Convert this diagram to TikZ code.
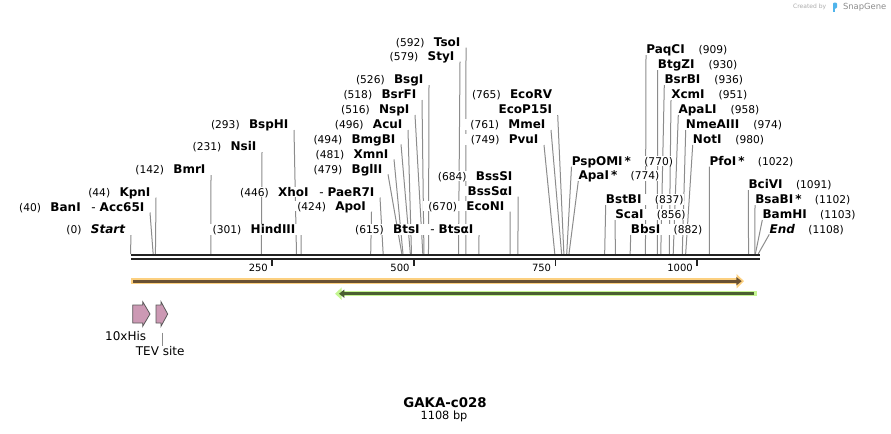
\documentclass[tikz,border=0pt]{standalone}
\usepackage{fontspec}
\setmainfont{DejaVu Sans}
\usetikzlibrary{arrows.meta}
\definecolor{cutgray}{RGB}{140,140,140}
\definecolor{barblack}{RGB}{34,34,34}
\definecolor{orghalo}{RGB}{252,208,128}
\definecolor{orgline}{RGB}{105,80,50}
\definecolor{grnhalo}{RGB}{196,246,145}
\definecolor{grnline}{RGB}{75,95,50}
\definecolor{featpink}{RGB}{204,153,180}
\definecolor{snapblue}{RGB}{80,180,235}
\pgfdeclarelayer{bg}
\pgfsetlayers{bg,main}
\newcommand{\cutno}[1]{{\fontsize{8}{9}\selectfont(#1)}}
\newcommand{\sitex}[1]{130.5+0.5665*#1}
% enzyme label left of its cut line
\newcommand{\enzL}[5]{%
  \node[enz left] (#1) at (#3,#4) {#5};
  \coordinate (#1-cut) at ({\sitex{#2}},254);
  \begin{pgfonlayer}{bg}\draw[cut line] (#1.south east) -- (#1-cut);\end{pgfonlayer}}
% enzyme label right of its cut line
\newcommand{\enzR}[5]{%
  \node[enz right] (#1) at (#3,#4) {#5};
  \coordinate (#1-cut) at ({\sitex{#2}},254);
  \begin{pgfonlayer}{bg}\draw[cut line] (#1.south west) -- (#1-cut);\end{pgfonlayer}}

\begin{document}
\begin{tikzpicture}[x=0.75pt,y=-0.75pt,
    enz left/.style={anchor=south east,fill=white,inner xsep=4pt,inner ysep=0pt,
      text height=7pt,text depth=0.75pt,font=\fontsize{9}{10}\selectfont},
    enz right/.style={enz left,anchor=south west,inner xsep=0pt},
    cut line/.style={draw=cutgray,line width=0.75pt},
    seq bar/.style={draw=barblack,line width=1.6pt},
    tick/.style={draw=barblack,line width=1.3pt},
    tick label/.style={anchor=east,inner sep=0pt,font=\fontsize{7.5}{9}\selectfont},
    feat/.style={draw=black!65,fill=featpink,line width=0.6pt,line join=miter},
    feat label/.style={inner sep=0pt,font=\fontsize{9}{10}\selectfont}]
  \useasboundingbox (0,0) rectangle (891,433);

  % sequence
  \draw[seq bar] (131,255) -- (760,255);
  \draw[seq bar] (131,259.3) -- (760,259.3);
  \draw[tick] ({\sitex{250}},260) -- ({\sitex{250}},266);
  \draw[tick] ({\sitex{500}},260) -- ({\sitex{500}},266);
  \draw[tick] ({\sitex{750}},260) -- ({\sitex{750}},266);
  \draw[tick] ({\sitex{1000}},260) -- ({\sitex{1000}},266);
  \node[tick label] (t250)  at ({\sitex{250}-4},267.5)  {250};
  \node[tick label] (t500)  at ({\sitex{500}-4},267.5)  {500};
  \node[tick label] (t750)  at ({\sitex{750}-4},267.5)  {750};
  \node[tick label] (t1000) at ({\sitex{1000}-4},267.5) {1000};

  % sites, left side
  \enzL{start}{0}{131}{235}{\cutno{0}\hspace{7pt}\textbf{\textit{Start}}}
  \enzL{banI}{40}{150}{212.5}{\cutno{40}\hspace{7pt}\textbf{BanI}\hspace{8pt}-\hspace{3pt}\textbf{Acc65I}}
  \enzL{kpnI}{44}{156}{197.5}{\cutno{44}\hspace{7pt}\textbf{KpnI}}
  \enzL{bmrI}{142}{211}{175}{\cutno{142}\hspace{7pt}\textbf{BmrI}}
  \enzL{nsiI}{231}{262}{152}{\cutno{231}\hspace{7pt}\textbf{NsiI}}
  \enzL{bsphI}{293}{294}{130}{\cutno{293}\hspace{7pt}\textbf{BspHI}}
  \enzL{hindIII}{301}{301}{235}{\cutno{301}\hspace{7pt}\textbf{HindIII}}
  \enzL{xhoI}{446}{380}{197.5}{\cutno{446}\hspace{7pt}\textbf{XhoI}\hspace{8pt}-\hspace{3pt}\textbf{PaeR7I}}
  \enzL{apoI}{424}{371.5}{211.7}{\cutno{424}\hspace{7pt}\textbf{ApoI}}
  \enzL{bglII}{479}{388}{174.3}{\cutno{479}\hspace{7pt}\textbf{BglII}}
  \enzL{xmnI}{481}{394}{159.3}{\cutno{481}\hspace{7pt}\textbf{XmnI}}
  \enzL{bmgbI}{494}{401}{144.3}{\cutno{494}\hspace{7pt}\textbf{BmgBI}}
  \enzL{acuI}{496}{408}{130}{\cutno{496}\hspace{7pt}\textbf{AcuI}}
  \enzL{nspI}{516}{415}{115}{\cutno{516}\hspace{7pt}\textbf{NspI}}
  \enzL{bsrfI}{518}{422}{100}{\cutno{518}\hspace{7pt}\textbf{BsrFI}}
  \enzL{bsgI}{526}{429}{85}{\cutno{526}\hspace{7pt}\textbf{BsgI}}
  \enzL{styI}{579}{460}{61.7}{\cutno{579}\hspace{7pt}\textbf{StyI}}
  \enzL{tsoI}{592}{466}{47.7}{\cutno{592}\hspace{7pt}\textbf{TsoI}}
  \enzL{btsI}{615}{479}{235}{\cutno{615}\hspace{7pt}\textbf{BtsI}\hspace{8pt}-\hspace{3pt}\textbf{BtsαI}}
  \enzL{ecoNI}{670}{510}{211.7}{\cutno{670}\hspace{7pt}\textbf{EcoNI}}
  \node[enz left] (bsssI) at (518,181.7) {\cutno{684}\hspace{7pt}\textbf{BssSI}};
  \enzL{bsssaI}{684}{518}{196.7}{\textbf{BssSαI}}
  \enzL{pvuI}{749}{544}{145}{\cutno{749}\hspace{7pt}\textbf{PvuI}}
  \enzL{mmeI}{761}{551}{130}{\cutno{761}\hspace{7pt}\textbf{MmeI}}
  \node[enz left] (ecoRV) at (557.7,100) {\cutno{765}\hspace{7pt}\textbf{EcoRV}};
  \enzL{ecoP15I}{765}{557.7}{115}{\textbf{EcoP15I}}

  % sites, right side
  \enzR{pspOMI}{770}{571.5}{166.7}{\textbf{PspOMI\,*}\hspace{10pt}\cutno{770}}
  \enzR{apaI}{774}{578.3}{181}{\textbf{ApaI\,*}\hspace{10pt}\cutno{774}}
  \enzR{bstBI}{837}{605.7}{205}{\textbf{BstBI}\hspace{10pt}\cutno{837}}
  \enzR{scaI}{856}{615}{220}{\textbf{ScaI}\hspace{10pt}\cutno{856}}
  \enzR{bbsI}{882}{630.7}{235}{\textbf{BbsI}\hspace{10pt}\cutno{882}}
  \enzR{paqCI}{909}{646}{55}{\textbf{PaqCI}\hspace{10.5pt}\cutno{909}}
  \enzR{btgZI}{930}{657.7}{70}{\textbf{BtgZI}\hspace{10.5pt}\cutno{930}}
  \enzR{bsrBI}{936}{664.3}{85}{\textbf{BsrBI}\hspace{10.5pt}\cutno{936}}
  \enzR{xcmI}{951}{671}{100}{\textbf{XcmI}\hspace{10.5pt}\cutno{951}}
  \enzR{apaLI}{958}{678.3}{115}{\textbf{ApaLI}\hspace{10.5pt}\cutno{958}}
  \enzR{nmeAIII}{974}{685.7}{130}{\textbf{NmeAIII}\hspace{10.5pt}\cutno{974}}
  \enzR{notI}{980}{692.7}{145}{\textbf{NotI}\hspace{10.5pt}\cutno{980}}
  \enzR{pfoI}{1022}{709.3}{166.7}{\textbf{PfoI\,*}\hspace{10pt}\cutno{1022}}
  \enzR{bciVI}{1091}{748.3}{190}{\textbf{BciVI}\hspace{10pt}\cutno{1091}}
  \enzR{bsaBI}{1102}{755}{205}{\textbf{BsaBI\,*}\hspace{10pt}\cutno{1102}}
  \enzR{bamHI}{1103}{762.3}{220}{\textbf{BamHI}\hspace{10pt}\cutno{1103}}
  \enzR{end}{1108}{769.3}{234.3}{\textbf{\textit{End}}\hspace{10pt}\cutno{1108}}

  % features
  \draw[orghalo,line width=4.2pt,-{Triangle[length=5.5pt,width=10.5pt]}] (131,281.2) -- (744,281.2);
  \draw[orgline,line width=2.2pt,-{Triangle[length=4pt,width=6pt]}] (133.3,281.2) -- (741.7,281.2);
  \draw[grnhalo,line width=4pt,{Triangle[length=5pt,width=9pt]}-] (335,293.7) -- (756.7,293.7);
  \draw[grnline,line width=2.2pt,{Triangle[length=4pt,width=6pt]}-] (339,293.7) -- (754.3,293.7);

  \draw[feat] (132.7,305) -- (142.7,305) -- (142.7,301.7) -- (150,314)
    -- (142.7,326.3) -- (142.7,323) -- (132.7,323) -- cycle;
  \draw[feat] (156,305) -- (161,305) -- (161,301.7) -- (167.7,314)
    -- (161,326.3) -- (161,323) -- (156,323) -- cycle;
  \node[feat label] (his) at (125.7,335.7) {10xHis};
  \node[feat label] (tev) at (160.2,351) {TEV site};
  \coordinate (tev-foot) at (162.3,332.5);
  \draw[cut line] (tev-foot) -- (tev-foot |- tev.north);

  % title
  \node[font=\bfseries\fontsize{10}{12}\selectfont] (name) at (445,402.7) {GAKA-c028};
  \node[font=\fontsize{8.5}{10}\selectfont] (length) at (444,416.7) {1108 bp};

  % credit
  \node[text=black!33,inner sep=0pt,font=\fontsize{4.5}{5}\selectfont] (created) at (809.7,7.3) {Created by};
  \fill[snapblue,rounded corners=0.8pt] (833,2.5) rectangle (837,8.5);
  \fill[snapblue] (833,7) rectangle (834.8,12.3);
  \node[text=black!45,inner sep=0pt,font=\fontsize{6.3}{7}\selectfont] (snapgene) at (864.7,7.3) {SnapGene};
\end{tikzpicture}
\end{document}
